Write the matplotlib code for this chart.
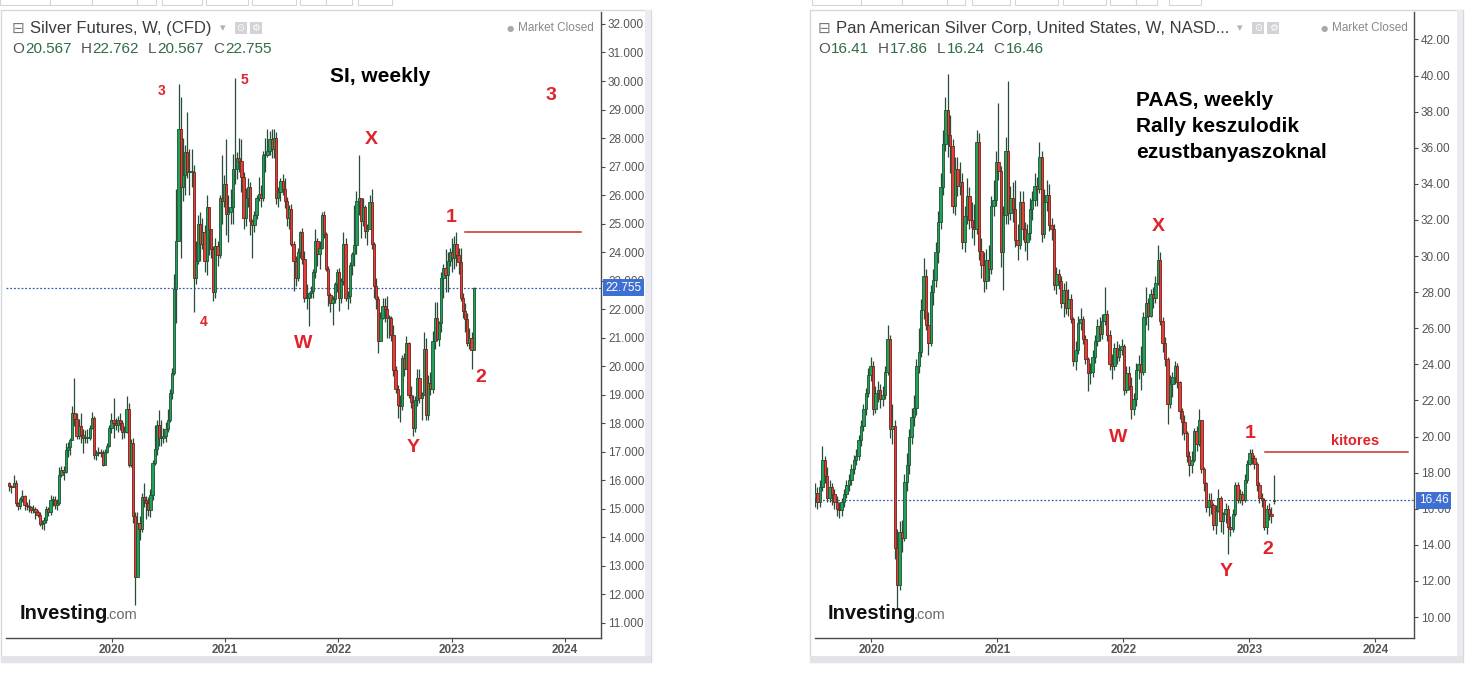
import numpy as np
import pandas as pd
import matplotlib
matplotlib.use("Agg")
import matplotlib.pyplot as plt
from matplotlib.patches import Rectangle
import matplotlib.transforms as mtransforms

# ---------------- data (weekly candles) ----------------
si_start = "2019-02-04"
si_first_open = 15.90
si_close = [
    15.80, 15.77, 15.90, 15.20, 15.10, 15.35, 15.45, 15.15, 15.10, 15.05, 14.95, 15.00, 14.90,
    14.80, 14.45, 14.50, 14.60, 15.00, 14.90, 15.30, 15.30, 15.15, 15.20, 16.20, 16.35, 16.30,
    17.05, 17.15, 17.40, 18.35, 18.15, 17.55, 17.90, 17.60, 17.50, 17.50, 17.50, 17.85, 18.20,
    16.90, 16.95, 17.00, 16.95, 16.55, 17.00, 17.20, 17.85, 18.10,
    18.00, 17.95, 18.10, 18.00, 17.70, 17.70, 18.50, 16.55, 17.30, 14.75, 12.60, 14.50, 14.30,
    15.40, 15.30, 15.20, 14.95, 15.50, 16.60, 17.10, 17.95, 17.50, 17.50, 17.55, 17.80, 18.10,
    19.05, 19.75, 22.70, 24.40, 28.30, 26.30, 26.70, 27.50, 26.80, 26.80, 26.80, 23.10, 23.70,
    25.00, 24.30, 24.70, 23.70, 25.60, 24.80, 24.10, 22.60, 24.20, 23.90, 25.90, 25.80, 26.40,
    25.35, 25.40, 25.60, 26.90, 26.90, 27.30, 27.20, 26.65, 25.20, 25.90, 26.30, 25.10, 24.95,
    25.30, 25.90, 26.05, 25.90, 27.40, 27.40, 27.55, 27.95, 27.60, 28.00, 25.90, 26.10, 26.50,
    26.20, 25.80, 25.20, 25.50, 24.30, 23.70, 23.10, 24.00, 24.70, 23.75, 22.40, 22.40, 22.55,
    22.65, 23.30, 24.40, 23.95, 24.15, 25.30, 24.65, 23.40, 22.50, 22.20, 22.35, 22.90, 23.30,
    22.40, 23.00, 24.30, 22.40, 22.45, 23.55, 23.95, 24.25, 25.80, 25.90, 25.10, 25.60, 24.75,
    24.80, 25.75, 24.30, 22.80, 22.35, 20.90, 21.70, 22.10, 22.00, 21.70, 21.70, 21.10, 19.85,
    19.20, 18.65, 18.60, 20.30, 19.90, 20.80, 19.00, 18.75, 17.85, 18.80, 19.60, 18.90, 19.00,
    20.60, 18.30, 19.40, 19.20, 20.90, 21.70, 20.95, 21.50, 23.10, 23.45, 23.20, 23.70, 24.00,
    23.80, 24.30, 23.90, 23.65, 22.40, 21.95, 21.65, 20.80, 21.00, 20.567,
]
si_high = [
    15.95, 15.85, 16.20, 16.00, 15.25, 15.40, 15.65, 15.50, 15.25, 15.35, 15.10, 15.15, 15.05,
    14.95, 14.90, 14.60, 14.70, 15.10, 15.05, 15.50, 15.45, 15.45, 15.35, 16.45, 16.50, 16.50,
    17.30, 17.35, 17.50, 18.60, 19.60, 18.35, 18.15, 18.35, 17.80, 17.75, 17.80, 17.95, 18.40,
    18.25, 17.05, 17.15, 17.10, 17.05, 17.10, 17.30, 17.95, 18.35,
    18.90, 18.20, 18.25, 18.35, 18.10, 17.90, 18.95, 18.70, 17.45, 17.50, 14.90, 14.90, 14.75,
    15.55, 15.90, 15.45, 15.40, 15.70, 16.70, 17.95, 18.10, 18.45, 18.10, 17.85, 18.05, 18.50,
    19.20, 19.95, 23.25, 26.20, 29.90, 29.45, 28.00, 27.75, 28.90, 27.60, 27.60, 27.05, 24.40,
    25.30, 25.40, 25.20, 24.95, 26.00, 25.40, 24.60, 24.20, 24.50, 24.40, 26.00, 27.40, 26.70,
    27.95, 26.00, 26.20, 27.45, 30.10, 27.50, 28.00, 27.95, 26.80, 26.25, 26.60, 26.45, 25.15,
    25.45, 26.00, 26.65, 26.35, 27.55, 28.00, 28.30, 28.25, 28.30, 28.30, 28.20, 26.30, 26.60,
    26.75, 26.60, 25.95, 25.65, 25.70, 24.40, 23.85, 24.15, 24.75, 24.85, 24.05, 22.90, 22.60,
    22.80, 23.40, 24.80, 24.50, 24.40, 25.40, 25.45, 24.70, 23.50, 22.55, 22.45, 22.95, 23.40,
    23.45, 23.10, 24.70, 24.50, 22.65, 23.65, 24.00, 25.65, 26.15, 27.40, 25.90, 25.90, 25.65,
    25.00, 26.00, 26.20, 24.35, 23.10, 22.45, 21.90, 22.40, 22.40, 22.45, 21.80, 21.75, 21.45,
    20.00, 19.35, 19.00, 20.40, 20.45, 21.05, 20.85, 19.30, 19.00, 18.95, 19.90, 19.90, 19.10,
    21.20, 21.00, 19.70, 19.80, 21.25, 22.25, 22.25, 21.60, 23.30, 23.60, 24.10, 24.00, 24.15,
    24.50, 24.55, 24.70, 24.15, 24.15, 22.55, 22.20, 21.85, 21.35, 21.20,
]
si_low = [
    15.62, 15.55, 15.75, 15.10, 14.95, 15.00, 15.25, 14.95, 14.95, 14.90, 14.85, 14.85, 14.65,
    14.70, 14.40, 14.30, 14.25, 14.50, 14.75, 14.80, 15.10, 15.00, 14.95, 15.15, 16.10, 16.00,
    16.25, 16.80, 16.90, 17.40, 17.90, 17.45, 17.45, 17.30, 16.95, 17.30, 17.30, 17.40, 17.80,
    16.75, 16.70, 16.85, 16.80, 16.50, 16.55, 16.95, 17.15, 17.65,
    17.50, 17.75, 17.70, 17.75, 17.45, 17.50, 17.65, 16.45, 16.45, 14.50, 11.64, 12.70, 13.90,
    14.20, 15.05, 14.65, 14.75, 14.70, 15.30, 16.55, 16.90, 17.20, 17.20, 17.30, 17.35, 17.70,
    18.05, 18.85, 19.70, 21.50, 24.60, 23.80, 25.80, 26.00, 26.60, 26.00, 26.30, 21.90, 22.90,
    23.60, 23.70, 24.10, 23.30, 23.20, 23.90, 23.80, 22.30, 22.40, 23.50, 23.80, 25.00, 25.60,
    24.60, 24.35, 25.00, 25.00, 26.40, 26.55, 26.80, 26.10, 24.80, 24.90, 25.60, 24.60, 23.80,
    24.70, 25.15, 25.80, 25.60, 25.80, 26.80, 27.35, 27.40, 27.30, 27.30, 25.70, 25.60, 25.80,
    26.00, 25.55, 24.90, 24.80, 24.20, 22.65, 22.80, 23.00, 23.80, 23.60, 22.25, 22.00, 21.40,
    22.40, 22.40, 23.10, 23.50, 23.40, 24.10, 24.50, 23.35, 22.10, 21.90, 21.45, 22.20, 22.60,
    21.95, 22.20, 22.85, 22.30, 22.00, 22.20, 23.20, 23.50, 23.95, 25.30, 24.50, 24.90, 24.50,
    24.25, 24.80, 24.10, 22.40, 22.00, 20.45, 20.90, 21.65, 21.55, 21.00, 21.00, 20.90, 19.65,
    19.05, 18.20, 18.05, 18.45, 19.65, 19.90, 18.90, 18.55, 17.55, 17.70, 18.60, 18.70, 18.10,
    19.00, 18.10, 18.10, 19.00, 19.05, 20.60, 20.90, 20.70, 21.20, 22.40, 22.60, 22.60, 23.50,
    23.30, 23.40, 23.50, 23.25, 22.30, 21.70, 21.20, 20.70, 20.60, 19.90,
]
si_last_ohlc = (20.567, 22.762, 20.567, 22.755)

paas_start = "2019-07-22"
paas_first_open = 16.60
paas_close = [
    16.90, 16.40, 17.20, 18.70, 17.80, 16.60, 17.20, 16.80, 16.40, 16.00, 15.95, 16.40,
    16.80, 17.30, 17.60, 18.20, 18.70, 18.90, 19.80, 20.60, 21.50, 22.40, 23.40, 23.90,
    21.50, 22.40, 22.60, 22.10, 22.30, 23.60, 25.40, 20.40, 20.60, 13.80, 11.80, 14.70, 14.40,
    17.50, 18.40, 20.00, 21.10, 21.60, 23.90, 24.70, 27.00, 28.90, 26.20, 25.20, 28.00, 28.70,
    30.20, 31.90, 33.80, 36.20, 38.10, 36.70, 36.10, 32.80, 34.80, 33.90, 34.10, 30.80, 32.20,
    33.30, 32.00, 31.60, 31.50, 36.30, 30.30, 29.50, 28.60, 29.80, 29.30, 32.80, 33.10, 35.20,
    34.70, 30.20, 32.30, 35.80, 32.40, 33.20, 32.60, 30.90, 30.60, 33.00, 31.50, 30.80, 31.30,
    32.60, 33.10, 33.90, 33.70, 35.50, 31.20, 33.00, 33.40, 31.70, 31.50, 28.40, 29.00, 28.60,
    27.40, 28.10, 27.10, 27.60, 26.50, 24.20, 24.80, 26.30, 26.50, 25.40, 24.30, 23.50, 23.60,
    24.40, 25.30, 26.10, 25.70, 26.40, 26.80, 25.60, 24.00, 23.90, 24.90, 24.40, 24.80, 25.00,
    22.60, 23.50, 22.80, 21.50, 22.10, 23.70, 24.00, 23.60, 26.60, 27.40, 26.70, 27.90, 27.70,
    28.50, 29.80, 26.40, 25.20, 24.30, 21.80, 22.90, 23.30, 23.90, 23.00, 21.40, 20.80, 20.20,
    18.90, 18.40, 18.70, 20.30, 19.60, 20.90, 18.20, 17.40, 16.10, 16.50, 16.20, 15.10, 15.90,
    16.60, 15.30, 15.70, 16.00, 15.00, 14.90, 15.70, 17.30, 16.50, 16.80, 16.50, 17.60, 18.50,
    19.10, 18.80, 18.50, 17.30, 16.60, 16.50, 15.00, 16.00, 15.70, 15.60,
]
paas_high = [
    17.40, 17.20, 17.60, 19.50, 18.90, 18.30, 17.60, 17.40, 17.10, 16.70, 16.40, 16.60,
    17.10, 17.60, 17.90, 18.50, 19.00, 19.30, 20.10, 20.90, 21.80, 22.70, 23.80, 24.40,
    24.20, 22.80, 23.10, 22.90, 22.80, 23.90, 26.20, 25.60, 21.80, 20.90, 14.90, 15.30, 15.40,
    17.90, 19.10, 20.40, 21.60, 22.30, 24.30, 26.00, 27.60, 29.90, 29.30, 26.90, 28.40, 29.30,
    30.80, 32.50, 34.60, 37.00, 38.80, 40.10, 37.80, 36.50, 35.50, 35.50, 35.20, 34.60, 32.80,
    34.30, 33.80, 33.00, 32.90, 37.00, 36.80, 31.00, 30.20, 30.40, 30.60, 33.30, 34.20, 35.80,
    38.50, 35.00, 32.80, 36.60, 39.70, 33.90, 34.10, 34.20, 31.80, 33.60, 33.60, 31.90, 31.80,
    33.20, 33.60, 34.60, 34.40, 36.30, 35.80, 33.70, 34.20, 34.00, 32.10, 31.80, 29.40, 29.30,
    28.90, 28.50, 28.60, 28.20, 27.90, 26.60, 25.30, 26.70, 27.10, 26.70, 25.60, 24.40, 24.10,
    24.80, 25.60, 26.50, 26.60, 26.80, 28.30, 27.00, 25.90, 24.60, 25.20, 25.30, 25.10, 25.40,
    25.10, 23.90, 23.90, 23.30, 22.40, 24.10, 24.50, 25.00, 26.90, 28.30, 27.70, 28.20, 28.30,
    28.90, 30.60, 30.20, 26.60, 25.50, 24.40, 23.40, 23.60, 24.20, 24.10, 23.10, 21.60, 21.20,
    20.30, 19.20, 19.20, 20.50, 20.60, 21.50, 20.90, 18.30, 17.50, 16.90, 16.90, 16.30, 16.20,
    17.10, 16.70, 15.80, 16.30, 16.20, 15.60, 16.00, 17.50, 17.50, 17.10, 17.00, 17.90, 18.70,
    19.30, 19.30, 19.00, 18.60, 17.50, 16.90, 16.60, 16.20, 16.30, 16.10,
]
paas_low = [
    16.10, 16.00, 16.10, 17.00, 17.40, 16.40, 16.40, 16.20, 16.00, 15.60, 15.50, 15.60,
    16.10, 16.60, 17.00, 17.30, 17.90, 18.40, 18.70, 19.50, 20.30, 21.20, 22.20, 23.10,
    21.20, 21.30, 21.90, 21.60, 21.70, 22.10, 23.40, 19.90, 19.60, 13.20, 10.50, 11.50, 13.60,
    14.20, 17.00, 17.90, 19.60, 20.60, 21.20, 23.50, 24.40, 26.50, 25.90, 24.50, 25.00, 27.30,
    28.30, 29.60, 31.50, 33.40, 35.80, 35.50, 34.60, 32.40, 32.30, 33.30, 33.40, 30.40, 30.20,
    31.80, 31.50, 31.00, 30.60, 31.20, 29.80, 28.80, 28.00, 28.20, 28.60, 29.00, 32.20, 32.80,
    34.20, 29.40, 28.10, 31.80, 31.80, 32.00, 31.90, 30.50, 29.80, 30.40, 30.90, 30.30, 29.80,
    30.90, 32.00, 32.80, 32.80, 33.50, 30.80, 31.00, 32.50, 31.40, 30.90, 28.10, 27.90, 28.20,
    27.10, 26.60, 26.80, 26.70, 26.30, 23.90, 23.70, 24.60, 25.90, 25.10, 24.00, 22.50, 22.90,
    23.30, 24.10, 25.00, 25.30, 25.40, 26.20, 25.30, 23.70, 23.20, 23.70, 24.00, 24.20, 24.50,
    22.30, 22.40, 22.60, 21.00, 21.20, 21.70, 23.20, 22.60, 23.40, 26.20, 25.90, 26.60, 27.10,
    27.40, 28.40, 26.20, 24.70, 23.90, 20.70, 21.60, 22.20, 22.90, 22.70, 21.00, 20.10, 19.80,
    18.60, 17.80, 18.00, 18.60, 19.20, 19.50, 18.00, 17.00, 15.80, 15.60, 15.70, 14.80, 14.60,
    15.80, 14.70, 14.60, 15.20, 13.50, 14.50, 14.70, 15.60, 16.30, 16.30, 16.20, 16.40, 17.40,
    18.40, 18.50, 18.20, 17.00, 16.30, 16.10, 14.80, 14.60, 15.40, 15.20,
]
paas_last_ohlc = (16.41, 17.86, 16.24, 16.46)

year_ticks = [2020, 2021, 2022, 2023, 2024]
si_yticks = list(range(11, 33))
paas_yticks = list(range(10, 43, 2))
si_breakout_level = 24.71
paas_breakout_level = 19.15

# ---------------- helpers ----------------
W, H = 1482, 682
FONT = "Liberation Sans"
plt.rcParams["font.family"] = [FONT, "DejaVu Sans"]
fig = plt.figure(figsize=(W / 100, H / 100), dpi=100)
fig.patch.set_facecolor("white")


def fx(px):
    return px / W


def fy(py):
    return 1 - py / H


def prect(x0, y0, x1, y1, **kw):
    r = Rectangle((fx(x0), fy(y1)), fx(x1) - fx(x0), fy(y0) - fy(y1),
                  transform=fig.transFigure, **kw)
    fig.add_artist(r)
    return r


def build(start, first_open, close, high, low, last):
    o_last, h_last, l_last, c_last = last
    c = np.array(list(close) + [c_last], float)
    h = np.array(list(high) + [h_last], float)
    l = np.array(list(low) + [l_last], float)
    o = np.concatenate([[first_open], c[:-2], [o_last]])
    dates = pd.date_range(start, periods=len(c), freq="7D")
    x = np.asarray(dates.year, float) + (np.asarray(dates.dayofyear, float) - 1) / np.where(
        dates.is_leap_year, 366.0, 365.0)
    return x, o, h, l, c


UP_FILL, UP_EDGE = "#22a05a", "#1a5532"
DN_FILL, DN_EDGE = "#df4139", "#76201a"
WICK = "#264e38"


def candles(ax, x, o, h, l, c, width, min_h):
    up = c >= o
    hi = np.maximum(h, np.maximum(o, c))
    lo = np.minimum(l, np.minimum(o, c))
    ax.vlines(x, lo, hi, colors=WICK, linewidth=0.9, zorder=2)
    body_lo = np.minimum(o, c)
    body_h = np.maximum(np.abs(c - o), min_h)
    ax.bar(x, body_h, bottom=body_lo, width=width,
           color=[UP_FILL if u else DN_FILL for u in up],
           edgecolor=[UP_EDGE if u else DN_EDGE for u in up],
           linewidth=0.6, zorder=3)


def setup(ax, xlim, ylim, yticks, fmt):
    ax.set_xlim(*xlim)
    ax.set_ylim(*ylim)
    ax.set_facecolor("white")
    for s in ("top", "left"):
        ax.spines[s].set_visible(False)
    for s in ("right", "bottom"):
        ax.spines[s].set_color("#4a4a4a")
        ax.spines[s].set_linewidth(1.0)
    ax.yaxis.tick_right()
    ax.set_yticks(yticks)
    ax.set_yticklabels([fmt % v for v in yticks])
    ax.set_xticks(year_ticks)
    ax.set_xticklabels([str(v) for v in year_ticks])
    ax.tick_params(axis="y", direction="out", length=3, width=0.8, color="#4a4a4a",
                   labelsize=8.5, labelcolor="#555555", pad=2)
    ax.tick_params(axis="x", direction="out", length=3, width=0.8, color="#4a4a4a",
                   labelsize=8.5, labelcolor="#555555", pad=1)
    for lab in ax.get_xticklabels():
        lab.set_fontweight("bold")


def price_tag(ax, value, text):
    tr = mtransforms.blended_transform_factory(ax.transAxes, ax.transData)
    ax.axhline(value, color="#3b5ca8", linewidth=0.9, linestyle=(0, (1.5, 1.5)), zorder=1)
    ax.text(1.008, value, text, transform=tr, ha="left", va="center", fontsize=8.5,
            color="white", zorder=10, clip_on=False,
            bbox=dict(boxstyle="square,pad=0.22", fc="#3e6fd3", ec="none"))


renderer = fig.canvas.get_renderer()


def seq_text(x_px, y_px, pieces, size, weight="normal"):
    x = x_px
    for s, col, gap in pieces:
        t = fig.text(fx(x), fy(y_px), s, color=col, fontsize=size, fontweight=weight,
                     ha="left", va="center")
        x += t.get_window_extent(renderer=renderer).width + gap
    return x


def header(x0, right_px, title, ohlc):
    fig.text(fx(x0), fy(28), "\u229f", fontsize=11, color="#777777", ha="left", va="center",
             family="DejaVu Sans")
    t = fig.text(fx(x0 + 18), fy(28), title, fontsize=12, color="#3c3c3c", ha="left", va="center")
    end = x0 + 18 + t.get_window_extent(renderer=renderer).width
    fig.text(fx(end + 8), fy(28), "\u25be", fontsize=8, color="#b0b0b0", ha="left", va="center",
             family="DejaVu Sans")
    for k, g in enumerate(["\u2299", "\u2699"]):
        bx = end + 23 + k * 15
        prect(bx, 22, bx + 12, 34, fc="#d2d3d6", ec="none", zorder=2)
        fig.text(fx(bx + 6), fy(28), g, fontsize=7, color="white", ha="center", va="center",
                 family="DejaVu Sans", zorder=3)
    m = fig.text(fx(right_px), fy(28), "Market Closed", fontsize=8.5, color="#8a8a8a",
                 ha="right", va="center")
    mw = m.get_window_extent(renderer=renderer).width
    fig.text(fx(right_px - mw - 4), fy(28), "\u25cf", fontsize=6, color="#a8a8a8", ha="right",
             va="center", family="DejaVu Sans")
    o, h, l, c = ohlc
    pieces = []
    for letter, val in zip("OHLC", (o, h, l, c)):
        pieces.append((letter, "#555555", 1))
        pieces.append((val, "#2f6b47", 9))
    seq_text(x0, 49, pieces, 11)


def logo(x, y):
    t = fig.text(fx(x), fy(y), "Investing", fontsize=14.5, fontweight="bold", color="#111111",
                 ha="left", va="baseline")
    w = t.get_window_extent(renderer=renderer).width
    fig.text(fx(x + w - 3), fy(y), ".com", fontsize=10.5, color="#6a6a6a", ha="left",
             va="baseline")


# ---------------- panels / chrome ----------------
for (px0, px1, btns) in [
    (1, 651, [(0, 50), (50, 92), (92, 137), (137, 156), (162, 202), (206, 248), (252, 296),
              (300, 326), (326, 352), (358, 392)]),
    (810, 1463, [(812, 861), (861, 902), (902, 947), (947, 965), (972, 1010), (1015, 1058),
                 (1063, 1106), (1110, 1136), (1136, 1157), (1169, 1201)]),
]:
    for b0, b1 in btns:
        prect(b0, -4, b1, 5, fc="white", ec="#d3d5da", lw=0.8, zorder=-3)
    prect(px0, 10, px1, 662, fc="none", ec="#d6d8dd", lw=1.0, zorder=-2)
    prect(px1 - 6, 10, px1, 657, fc="#ebecef", ec="none", zorder=-2)
    prect(px0, 656, px1, 663, fc="#e3e4e8", ec="none", zorder=-2)

# ---------------- left chart: silver ----------------
axL = fig.add_axes([fx(6), fy(638), fx(601) - fx(6), fy(12) - fy(638)])
x, o, h, l, c = build(si_start, si_first_open, si_close, si_high, si_low, si_last_ohlc)
candles(axL, x, o, h, l, c, width=1.05 * 7 / 365.25, min_h=0.03)
setup(axL, (2019.064, 2024.318), (10.47, 32.42), si_yticks, "%.3f")
price_tag(axL, si_last_ohlc[3], "%.3f" % si_last_ohlc[3])
axL.plot([2023.117, 2024.141], [si_breakout_level] * 2, color="#c8302c", lw=1.1, zorder=4)

# ---------------- right chart: PAAS ----------------
axR = fig.add_axes([fx(815), fy(638), fx(1414) - fx(815), fy(12) - fy(638)])
x, o, h, l, c = build(paas_start, paas_first_open, paas_close, paas_high, paas_low, paas_last_ohlc)
candles(axR, x, o, h, l, c, width=1.0 * 7 / 365.25, min_h=0.05)
setup(axR, (2019.553, 2024.307), (8.84, 43.52), paas_yticks, "%.2f")
price_tag(axR, paas_last_ohlc[3], "%.2f" % paas_last_ohlc[3])
axR.plot([2023.125, 2024.26], [paas_breakout_level] * 2, color="#c8302c", lw=1.1, zorder=4)

# ---------------- headers ----------------
header(12, 594, "Silver Futures, W, (CFD)", ["%.3f" % v for v in si_last_ohlc])
header(818, 1408, "Pan American Silver Corp, United States, W, NASD...",
       ["%.2f" % v for v in paas_last_ohlc])

# ---------------- annotations ----------------
RED = "#e0232b"
for s, px, py, size in [("3", 162, 91, 10), ("5", 244, 80, 10), ("4", 204, 322, 10),
                        ("3", 551, 95, 14), ("X", 371, 140, 14), ("W", 303, 343, 14),
                        ("Y", 413, 448, 14), ("1", 451, 218, 14), ("2", 481, 378, 14),
                        ("X", 1158, 227, 14), ("W", 1118, 437, 14), ("1", 1250, 434, 14),
                        ("Y", 1226, 571, 14), ("2", 1268, 549, 14), ("kitores", 1355, 441, 10.5)]:
    fig.text(fx(px), fy(py), s, color=RED, fontsize=size, fontweight="bold", ha="center",
             va="center")

fig.text(fx(330), fy(77), "SI, weekly", fontsize=15, fontweight="bold", color="black",
         ha="left", va="center")
for line, py in [("PAAS, weekly", 100), ("Rally keszulodik", 127), ("ezustbanyaszoknal", 153)]:
    fig.text(fx(1136), fy(py), line, fontsize=15, fontweight="bold", color="black",
             ha="left", va="center")

logo(20, 619)
logo(828, 619)

fig.savefig("out.png", dpi=100, facecolor="white")
